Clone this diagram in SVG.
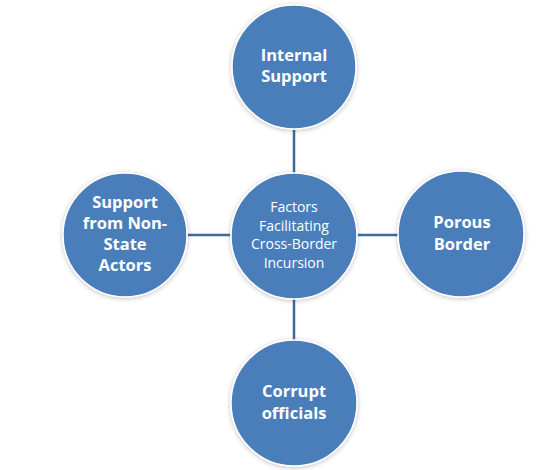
<svg xmlns="http://www.w3.org/2000/svg" width="558" height="470" viewBox="0 0 558 470">
<defs>
<filter id="sh" x="-20%" y="-20%" width="140%" height="140%">
<feGaussianBlur in="SourceAlpha" stdDeviation="2.5"/>
<feOffset dx="0" dy="1" result="b"/>
<feComponentTransfer><feFuncA type="linear" slope="0.25"/></feComponentTransfer>
<feMerge><feMergeNode/><feMergeNode in="SourceGraphic"/></feMerge>
</filter>
</defs>
<style>
.c{fill:#4a7ebb;stroke:#ffffff;stroke-width:1.5;filter:url(#sh)}
.t{font-family:"Open Sans","Liberation Sans",sans-serif;fill:#ffffff;text-anchor:middle;font-weight:bold;font-size:16.5px}
.m{font-family:"Open Sans","Liberation Sans",sans-serif;fill:#ffffff;text-anchor:middle;font-size:14px}
.k{stroke:#3f6a9e;stroke-width:2.5;fill:none}
</style>
<rect width="558" height="470" fill="#ffffff"/>
<g id="connectors">
<line class="k" x1="294" y1="130" x2="294" y2="173"/>
<line class="k" x1="188" y1="235" x2="230" y2="235"/>
<line class="k" x1="358" y1="235" x2="398" y2="235"/>
<line class="k" x1="294" y1="299" x2="294" y2="340"/>
</g>
<g id="center">
<circle class="c" cx="294" cy="236" r="63"/>
<text class="m" x="294" y="212">Factors</text>
<text class="m" x="294" y="230.5">Facilitating</text>
<text class="m" x="294" y="249">Cross-Border</text>
<text class="m" x="294" y="267.5">Incursion</text>
</g>
<g id="internal-support">
<circle class="c" cx="294" cy="67" r="62"/>
<text class="t" x="294" y="61">Internal</text>
<text class="t" x="294" y="82">Support</text>
</g>
<g id="non-state-actors">
<circle class="c" cx="125" cy="235" r="62"/>
<text class="t" x="125" y="208">Support</text>
<text class="t" x="125" y="229">from Non-</text>
<text class="t" x="125" y="250">State</text>
<text class="t" x="125" y="271">Actors</text>
</g>
<g id="porous-border">
<circle class="c" cx="461" cy="234" r="63"/>
<text class="t" x="462" y="228">Porous</text>
<text class="t" x="462" y="250">Border</text>
</g>
<g id="corrupt-officials">
<circle class="c" cx="294" cy="403" r="63"/>
<text class="t" x="294" y="397">Corrupt</text>
<text class="t" x="294" y="419">officials</text>
</g>
</svg>
